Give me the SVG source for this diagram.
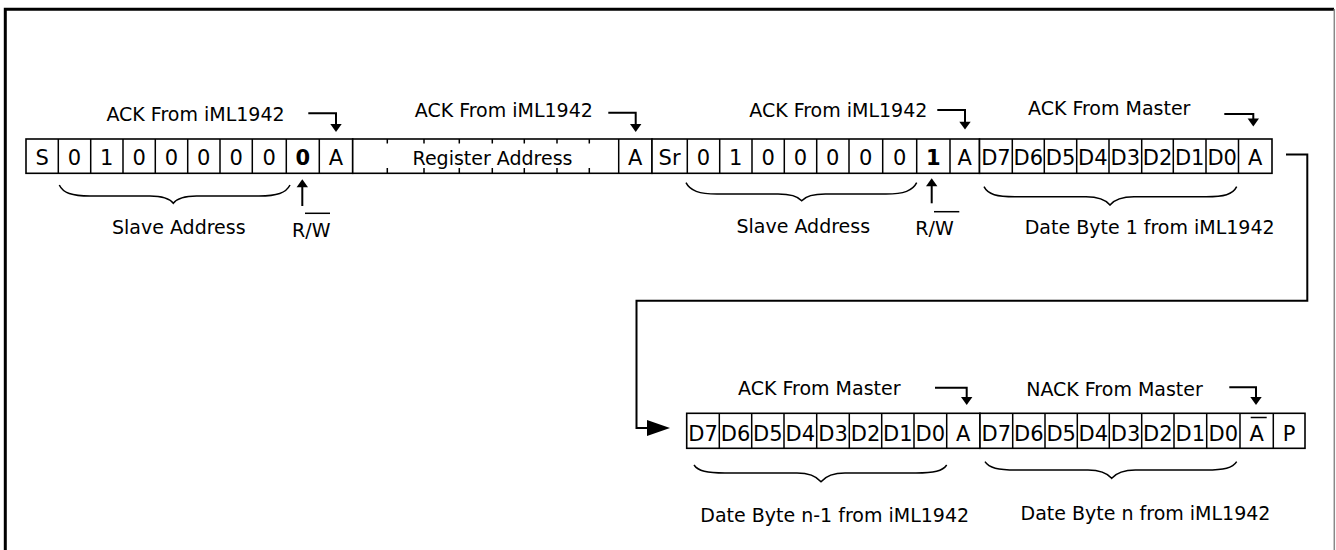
<svg xmlns="http://www.w3.org/2000/svg" width="1336" height="550" viewBox="0 0 1336 550">
<style>
.lbl{font-family:"DejaVu Sans",Verdana,sans-serif;font-size:19px;fill:#000;text-anchor:middle}
.cell{font-family:"DejaVu Sans",Verdana,sans-serif;font-size:21px;fill:#000;text-anchor:middle}
.bold{font-weight:bold}
.box{fill:#fff;stroke:#000;stroke-width:1.6}
.sep{stroke:#000;stroke-width:1.5}
.wire{fill:none;stroke:#000;stroke-width:2}
.brace{fill:none;stroke:#000;stroke-width:1.5}
.head{fill:#000}
</style>
<rect width="1336" height="550" fill="#fff"/>
<g id="frame">
<path d="M5.3 560 V9.3 H1334" fill="none" stroke="#000" stroke-width="3"/>
<line x1="1334.3" y1="9" x2="1334.3" y2="550" stroke="#888" stroke-width="1.5"/>
</g>

<g id="row1-slave-write">
<rect class="box" x="26" y="139" width="326.7" height="34.3"/>
<path class="sep" d="M58.3 139V173.3M90.7 139V173.3M123 139V173.3M155.3 139V173.3M187.7 139V173.3M220 139V173.3M252.3 139V173.3M286.3 139V173.3M319.3 139V173.3"/>
<text class="cell" x="42.2" y="165">S</text>
<text class="cell" x="74.5" y="165">0</text>
<text class="cell" x="106.8" y="165">1</text>
<text class="cell" x="139.2" y="165">0</text>
<text class="cell" x="171.5" y="165">0</text>
<text class="cell" x="203.8" y="165">0</text>
<text class="cell" x="236.2" y="165">0</text>
<text class="cell" x="269.3" y="165">0</text>
<text class="cell bold" x="302.8" y="165">0</text>
<text class="cell" x="336" y="165">A</text>
</g>

<g id="row1-register">
<rect class="box" x="352.7" y="139" width="299.3" height="34.3"/>
<path class="sep" d="M618.7 139V173.3"/>
<path class="sep" d="M387.3 139V143.5M424 139V143.5M459.3 139V143.5M492.3 139V143.5M524.3 139V143.5M557 139V143.5M589.3 139V143.5M387.3 168V173.3M424 168V173.3M459.3 168V173.3M492.3 168V173.3M524.3 168V173.3M557 168V173.3M589.3 168V173.3"/>
<text class="lbl" x="492.5" y="165">Register Address</text>
<text class="cell" x="635.3" y="165">A</text>
</g>

<g id="row1-slave-read">
<rect class="box" x="652" y="139" width="327.5" height="34.3"/>
<path class="sep" d="M687.3 139V173.3M719.7 139V173.3M752 139V173.3M784.3 139V173.3M816.7 139V173.3M849 139V173.3M882.7 139V173.3M916.7 139V173.3M950 139V173.3"/>
<text class="cell" x="669.6" y="165">Sr</text>
<text class="cell" x="703.5" y="165">0</text>
<text class="cell" x="735.8" y="165">1</text>
<text class="cell" x="768.2" y="165">0</text>
<text class="cell" x="800.5" y="165">0</text>
<text class="cell" x="832.8" y="165">0</text>
<text class="cell" x="865.8" y="165">0</text>
<text class="cell" x="899.7" y="165">0</text>
<text class="cell bold" x="933.3" y="165">1</text>
<text class="cell" x="964.7" y="165">A</text>
</g>

<g id="row1-data1">
<rect class="box" x="979.5" y="139" width="292.5" height="34.3"/>
<path class="sep" d="M1012.3 139V173.3M1044.3 139V173.3M1076.7 139V173.3M1109 139V173.3M1141.7 139V173.3M1173.3 139V173.3M1206 139V173.3M1238.5 139V173.3"/>
<text class="cell" x="995.9" y="165">D7</text>
<text class="cell" x="1028.3" y="165">D6</text>
<text class="cell" x="1060.5" y="165">D5</text>
<text class="cell" x="1092.8" y="165">D4</text>
<text class="cell" x="1125.3" y="165">D3</text>
<text class="cell" x="1157.5" y="165">D2</text>
<text class="cell" x="1189.7" y="165">D1</text>
<text class="cell" x="1222.2" y="165">D0</text>
<text class="cell" x="1255.2" y="165">A</text>
</g>

<g id="row2-data-n1">
<rect class="box" x="686.7" y="413.3" width="293.3" height="35"/>
<path class="sep" d="M719.3 413.3V448.3M751.7 413.3V448.3M784 413.3V448.3M816.7 413.3V448.3M849.3 413.3V448.3M881.7 413.3V448.3M914 413.3V448.3M946.7 413.3V448.3"/>
<text class="cell" x="703" y="440.5">D7</text>
<text class="cell" x="735.5" y="440.5">D6</text>
<text class="cell" x="767.8" y="440.5">D5</text>
<text class="cell" x="800.3" y="440.5">D4</text>
<text class="cell" x="833" y="440.5">D3</text>
<text class="cell" x="865.5" y="440.5">D2</text>
<text class="cell" x="897.8" y="440.5">D1</text>
<text class="cell" x="930.3" y="440.5">D0</text>
<text class="cell" x="963.3" y="440.5">A</text>
</g>

<g id="row2-data-n">
<rect class="box" x="980" y="413.3" width="325" height="35"/>
<path class="sep" d="M1012.7 413.3V448.3M1045 413.3V448.3M1077.3 413.3V448.3M1109.3 413.3V448.3M1141.7 413.3V448.3M1174 413.3V448.3M1206.7 413.3V448.3M1240 413.3V448.3M1273.3 413.3V448.3"/>
<text class="cell" x="996.3" y="440.5">D7</text>
<text class="cell" x="1028.8" y="440.5">D6</text>
<text class="cell" x="1061.2" y="440.5">D5</text>
<text class="cell" x="1093.3" y="440.5">D4</text>
<text class="cell" x="1125.5" y="440.5">D3</text>
<text class="cell" x="1157.8" y="440.5">D2</text>
<text class="cell" x="1190.3" y="440.5">D1</text>
<text class="cell" x="1223.3" y="440.5">D0</text>
<text class="cell" x="1256.7" y="440.5">A</text>
<line x1="1250.7" y1="417.5" x2="1266.7" y2="417.5" stroke="#000" stroke-width="1.5"/>
<text class="cell" x="1289.2" y="440.5">P</text>
</g>

<g id="labels">
<text class="lbl" x="195.5" y="120.5">ACK From iML1942</text>
<text class="lbl" x="503.8" y="116.7">ACK From iML1942</text>
<text class="lbl" x="838.3" y="116.7">ACK From iML1942</text>
<text class="lbl" x="1109.2" y="115">ACK From Master</text>
<text class="lbl" x="178.8" y="234">Slave Address</text>
<text class="lbl" x="803.3" y="232.7">Slave Address</text>
<text class="lbl" x="1149.7" y="234">Date Byte 1 from iML1942</text>
<text class="lbl" x="311.3" y="237.3">R/W</text>
<line x1="305" y1="213.3" x2="330" y2="213.3" stroke="#000" stroke-width="1.5"/>
<text class="lbl" x="934.5" y="235">R/W</text>
<line x1="934" y1="211.7" x2="959.3" y2="211.7" stroke="#000" stroke-width="1.5"/>
<text class="lbl" x="819.3" y="395">ACK From Master</text>
<text class="lbl" x="1114.5" y="396">NACK From Master</text>
<text class="lbl" x="834.7" y="521.7">Date Byte n-1 from iML1942</text>
<text class="lbl" x="1145.5" y="520">Date Byte n from iML1942</text>
</g>

<g id="braces">
<path class="brace" d="M59.3 185 C63 193 72 196 90 196 L150 196 C163 196 170 199 173.3 203.3 C176.6 199 183.6 196 196.6 196 L259 196 C277 196 286 193 290 185"/>
<path class="brace" d="M686 182.7 C690 190.7 699 194 717 194 L778 194 C791 194 798 196.5 801.7 200.7 C805.4 196.5 812.4 194 825.4 194 L886 194 C904 194 912.7 190.7 916.7 182.7"/>
<path class="brace" d="M984 186.7 C988 194.7 997 196.7 1015 196.7 L1086 196.7 C1099 196.7 1106 200 1110 205 C1114 200 1121 196.7 1134 196.7 L1206 196.7 C1224 196.7 1232.7 194.7 1236.7 186.7"/>
<path class="brace" d="M694 465 C698 471 707 473 725 473 L797 473 C810 473 817 477 821 481.7 C825 477 832 473 845 473 L916 473 C934 473 942.7 471 946.7 465"/>
<path class="brace" d="M985 461.7 C989 468 998 470 1016 470 L1088 470 C1101 470 1108 474 1111.7 478.3 C1115.4 474 1122.4 470 1135.4 470 L1206 470 C1224 470 1232.7 468 1236.7 461.7"/>
</g>

<g id="connectors">
<path class="wire" d="M308.3 113.3 H336 V125"/>
<polygon class="head" points="330.3,124 341.7,124 336,132"/>
<path class="wire" d="M608.3 112.7 H635.7 V125"/>
<polygon class="head" points="630,124 641.4,124 635.7,132"/>
<path class="wire" d="M937.3 110 H965 V122.5"/>
<polygon class="head" points="959.3,121.7 970.7,121.7 965,129.5"/>
<path class="wire" d="M1224.3 114 H1253.3 V119"/>
<polygon class="head" points="1247.6,118.5 1259,118.5 1253.3,126.5"/>
<path class="wire" d="M935 387.7 H966.7 V398"/>
<polygon class="head" points="961,397 972.4,397 966.7,405"/>
<path class="wire" d="M1229.3 387.3 H1256 V398"/>
<polygon class="head" points="1250.3,397 1261.7,397 1256,405"/>
<path class="wire" d="M302.3 206 V186.5"/>
<polygon class="head" points="296.6,187.3 308,187.3 302.3,179.3"/>
<path class="wire" d="M931.7 203.3 V185.5"/>
<polygon class="head" points="926,186.3 937.4,186.3 931.7,178.3"/>
<path class="wire" d="M1286 154.5 H1307.3 V300.7 H636.5 V428 H649"/>
<polygon class="head" points="647,420 670,428 647,436"/>
</g>
</svg>
